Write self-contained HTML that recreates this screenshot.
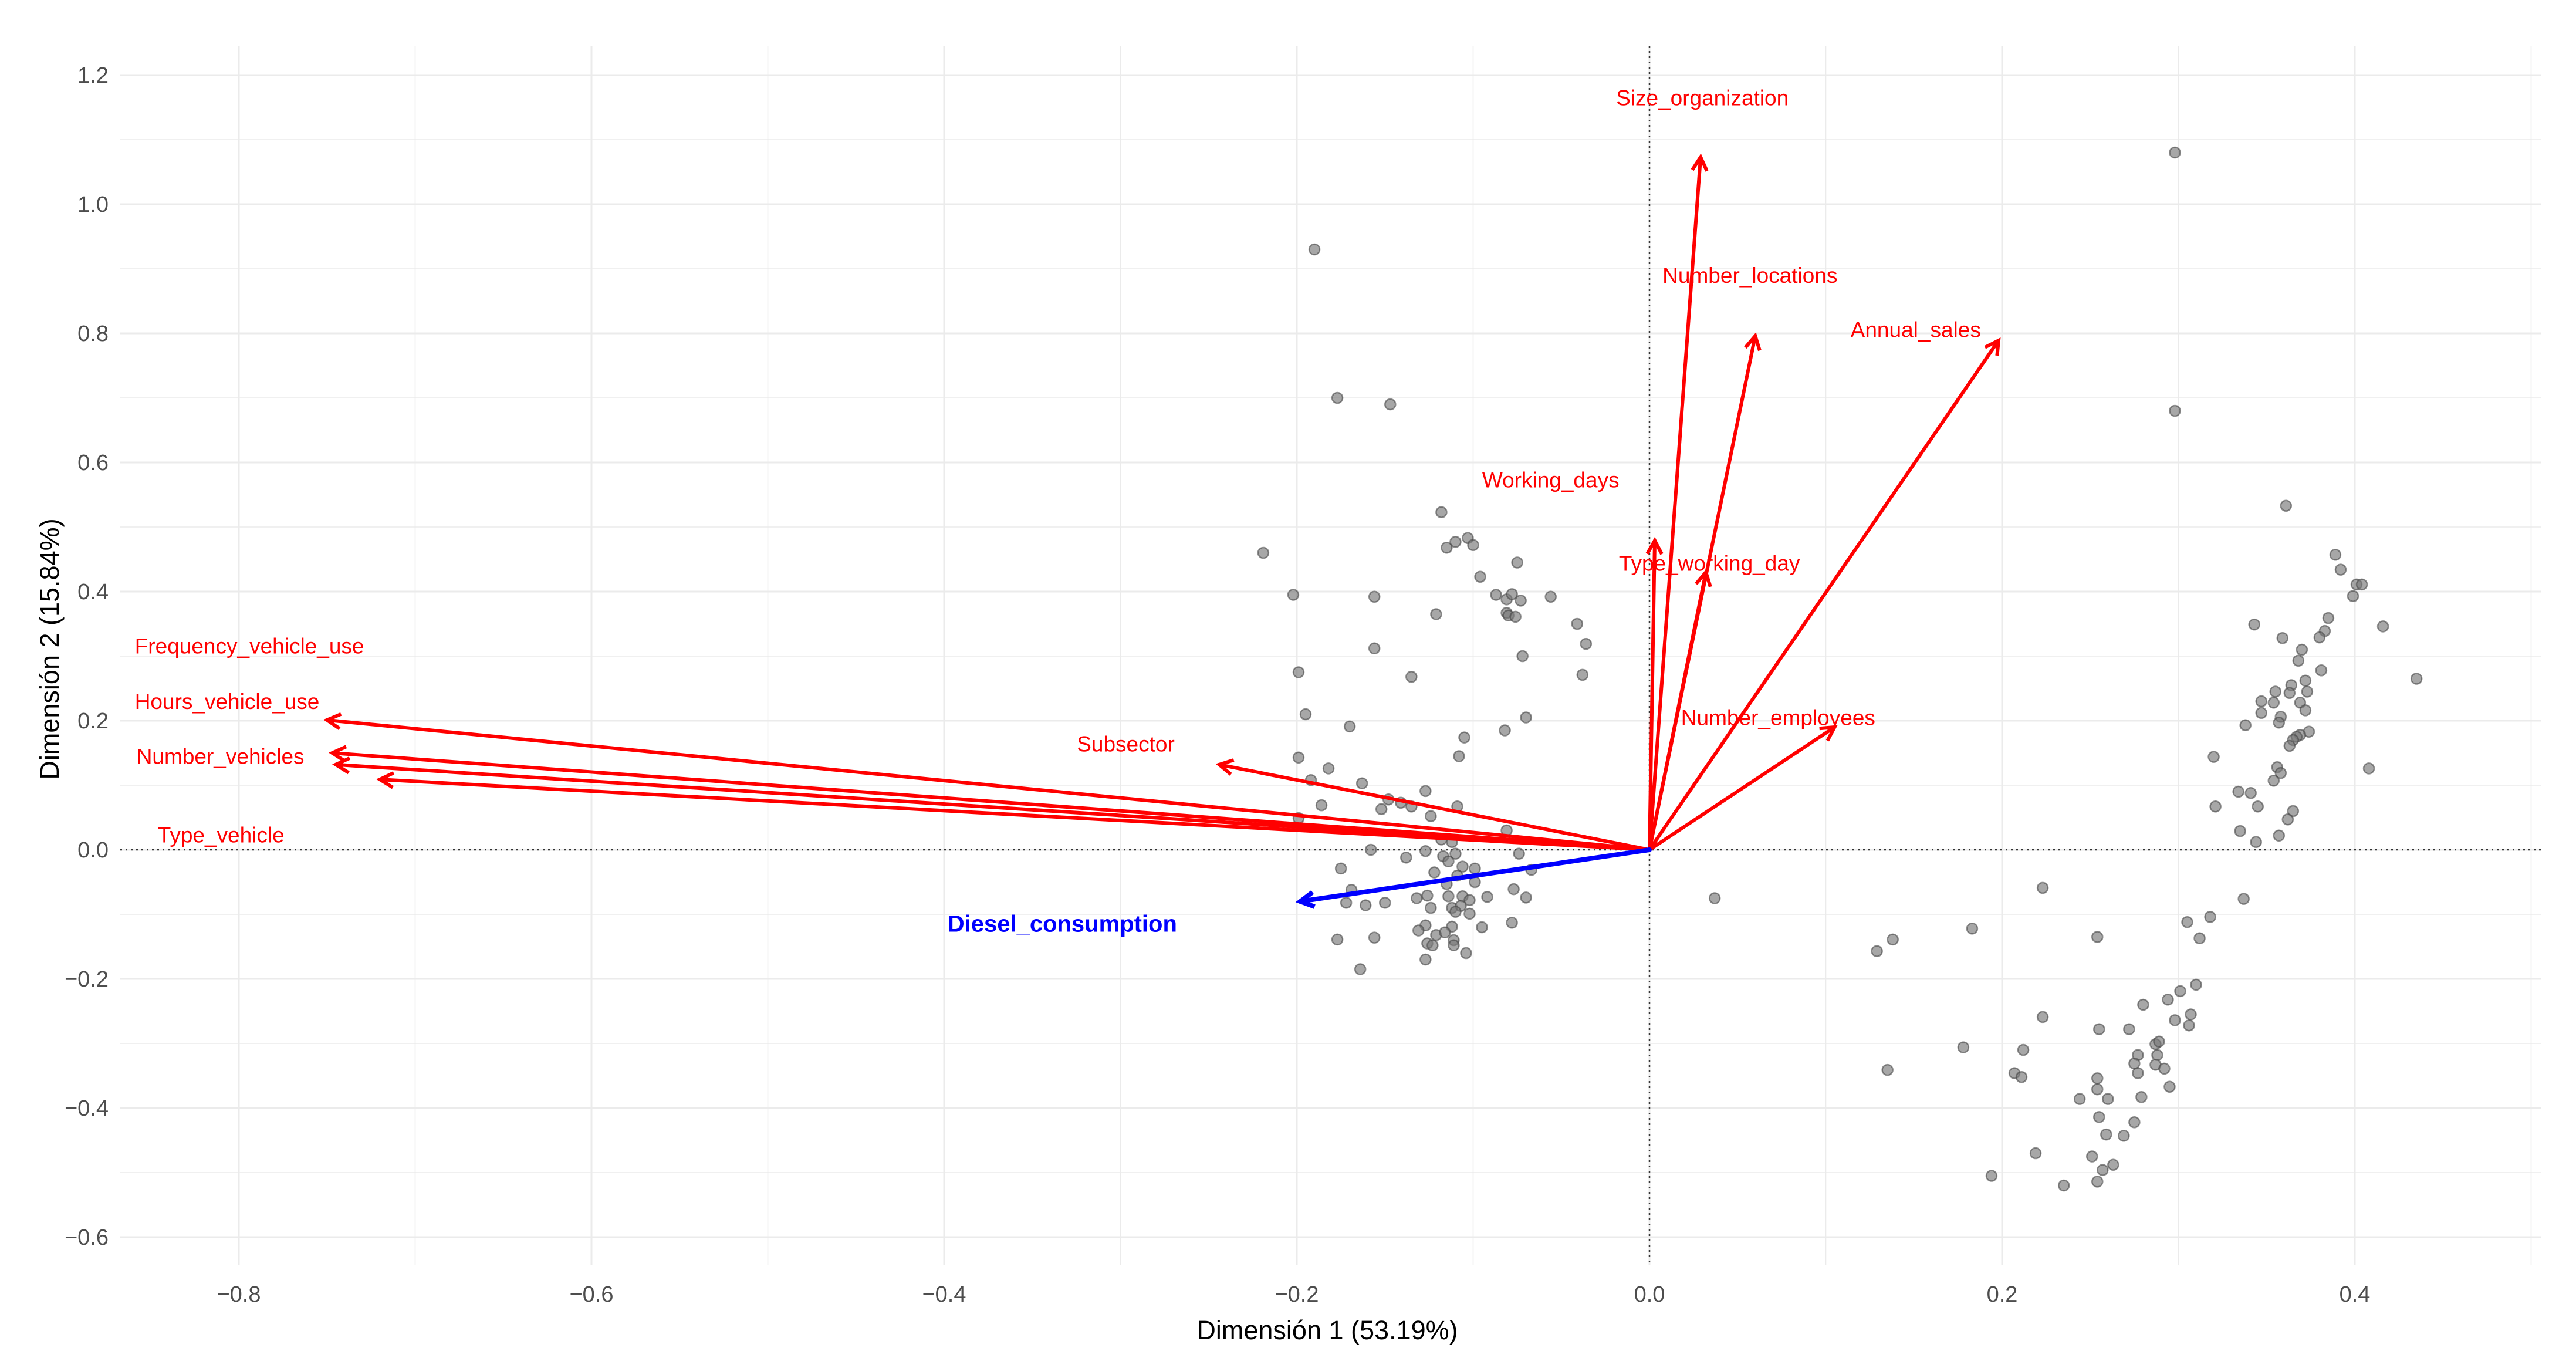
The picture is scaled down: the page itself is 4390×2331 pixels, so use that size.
<!DOCTYPE html>
<html><head><meta charset="utf-8"><style>
html,body{margin:0;padding:0;background:#fff;}
svg{display:block;font-family:"Liberation Sans",Arial,sans-serif;}
</style></head><body>
<svg id="chart" width="4390" height="2331" viewBox="0 0 4390 2331" xmlns="http://www.w3.org/2000/svg">
<g id="grid"></g>
<g id="zero"></g>
<g id="pts"></g>
<g id="arrows"></g>
<g id="labels"></g>
<g id="axes"></g>
</svg>
<script>
const xTicks=[-0.8,-0.6,-0.4,-0.2,0.0,0.2,0.4];
const yTicks=[-0.6,-0.4,-0.2,0.0,0.2,0.4,0.6,0.8,1.0,1.2];
const xTickLabels=["\u22120.8","\u22120.6","\u22120.4","\u22120.2","0.0","0.2","0.4"];
const yTickLabels=["\u22120.6","\u22120.4","\u22120.2","0.0","0.2","0.4","0.6","0.8","1.0","1.2"];
const varNames=["Size_organization","Number_locations","Annual_sales","Working_days","Type_working_day","Number_employees","Subsector","Frequency_vehicle_use","Hours_vehicle_use","Number_vehicles","Type_vehicle","Diesel_consumption"];
const varX=[0.029,0.060,0.198,0.003,0.032,0.105,-0.244,-0.750,-0.747,-0.745,-0.720,-0.198];
const varY=[1.073,0.796,0.789,0.479,0.430,0.190,0.132,0.201,0.150,0.132,0.109,-0.080];
const labX=[0.030,0.057,0.151,-0.056,0.034,0.073,-0.297,-0.859,-0.859,-0.858,-0.846,-0.333];
const labY=[1.165,0.890,0.806,0.573,0.444,0.205,0.164,0.316,0.230,0.145,0.023,-0.115];
const labAnchor=["middle","middle","middle","middle","middle","middle","middle","start","start","start","start","middle"];
const ptX=[-0.118,-0.219,-0.115,-0.110,-0.103,-0.100,-0.075,-0.096,-0.202,-0.156,-0.087,-0.081,-0.078,-0.073,-0.056,-0.121,-0.081,-0.080,-0.076,-0.041,-0.036,-0.156,-0.072,-0.199,-0.135,-0.038,-0.195,-0.070,-0.170,-0.082,-0.105,-0.199,-0.108,-0.182,-0.192,-0.163,-0.127,-0.186,-0.152,-0.148,-0.141,-0.135,-0.109,-0.124,-0.199,-0.081,-0.118,-0.112,-0.158,-0.127,-0.074,-0.110,-0.138,-0.117,-0.114,-0.106,-0.175,-0.099,-0.122,-0.067,-0.109,-0.115,-0.099,-0.169,-0.077,-0.126,-0.114,-0.106,-0.092,-0.070,-0.172,-0.161,-0.150,-0.132,-0.102,-0.124,-0.112,-0.107,-0.110,-0.102,-0.127,-0.112,-0.131,-0.095,-0.078,-0.121,-0.116,-0.177,-0.156,-0.126,-0.111,-0.123,-0.111,-0.104,-0.127,-0.164,
0.361,0.389,0.392,0.401,0.404,0.399,0.343,0.416,0.385,0.359,0.383,0.380,0.370,0.368,0.381,0.372,0.364,0.355,0.363,0.373,0.347,0.354,0.369,0.372,0.347,0.358,0.357,0.338,0.374,0.369,0.367,0.365,0.363,0.320,0.356,0.358,0.354,0.408,0.334,0.341,0.321,0.345,0.365,0.362,0.335,0.357,0.344,0.435,
0.223,0.337,0.318,0.305,0.183,0.138,0.129,0.254,0.312,0.310,0.301,0.294,0.280,0.223,0.307,0.298,0.306,0.255,0.272,0.178,0.212,0.287,0.289,0.277,0.288,0.275,0.287,0.292,0.135,0.207,0.211,0.277,0.254,0.295,0.254,0.244,0.260,0.279,0.255,0.275,0.259,0.269,0.219,0.251,0.263,0.257,0.194,0.235,0.254,
0.298,0.298,-0.190,-0.177,-0.147,0.037];
const ptY=[0.523,0.460,0.468,0.477,0.483,0.472,0.445,0.423,0.395,0.392,0.395,0.388,0.396,0.386,0.392,0.365,0.367,0.363,0.361,0.350,0.319,0.312,0.300,0.275,0.268,0.271,0.210,0.205,0.191,0.185,0.174,0.143,0.145,0.126,0.108,0.103,0.091,0.069,0.063,0.078,0.073,0.067,0.067,0.052,0.049,0.030,0.016,0.012,0.000,-0.002,-0.006,-0.006,-0.012,-0.010,-0.018,-0.026,-0.029,-0.029,-0.035,-0.031,-0.040,-0.053,-0.050,-0.062,-0.061,-0.071,-0.072,-0.072,-0.073,-0.074,-0.082,-0.086,-0.082,-0.075,-0.078,-0.090,-0.090,-0.087,-0.096,-0.099,-0.117,-0.119,-0.125,-0.120,-0.113,-0.132,-0.128,-0.139,-0.136,-0.145,-0.140,-0.148,-0.148,-0.160,-0.170,-0.185,
0.533,0.457,0.434,0.411,0.411,0.393,0.349,0.346,0.359,0.328,0.339,0.329,0.310,0.293,0.278,0.262,0.255,0.245,0.243,0.245,0.230,0.228,0.228,0.216,0.212,0.206,0.197,0.193,0.183,0.178,0.175,0.170,0.161,0.144,0.128,0.119,0.107,0.126,0.090,0.088,0.067,0.067,0.060,0.047,0.029,0.022,0.012,0.265,
-0.059,-0.076,-0.104,-0.112,-0.122,-0.139,-0.157,-0.135,-0.137,-0.209,-0.219,-0.232,-0.240,-0.259,-0.255,-0.264,-0.272,-0.278,-0.278,-0.306,-0.310,-0.301,-0.297,-0.318,-0.318,-0.331,-0.333,-0.339,-0.341,-0.346,-0.352,-0.346,-0.354,-0.367,-0.371,-0.386,-0.386,-0.383,-0.414,-0.422,-0.441,-0.443,-0.470,-0.475,-0.488,-0.496,-0.505,-0.520,-0.514,
1.080,0.680,0.930,0.700,0.690,-0.075];

const NS="http://www.w3.org/2000/svg";
const X0=2811, XU=3005, Y0=1448, YU=1100;
const PL=205, PR=4330, PT=78, PB=2156;
function sx(v){return X0+v*XU;}
function sy(v){return Y0-v*YU;}
function mk(tag,attrs,parent){const e=document.createElementNS(NS,tag);for(const k in attrs)e.setAttribute(k,attrs[k]);parent.appendChild(e);return e;}
const grid=document.getElementById('grid');
for(let i=-9;i<=5;i++){const v=i/10;const x=sx(v);if(x<PL||x>PR)continue;
 const l=mk('line',{x1:x,x2:x,y1:PT,y2:PB,stroke:'#ebebeb','stroke-width':(i%2===0)?3:1.6},grid);
 
 }
for(let i=-6;i<=12;i++){const v=i/10;const y=sy(v);if(y<PT||y>PB)continue;
 const l=mk('line',{x1:PL,x2:PR,y1:y,y2:y,stroke:'#ebebeb','stroke-width':(i%2===0)?3:1.6},grid);
 
 }
const zero=document.getElementById('zero');
const zh=mk('line',{x1:PL,x2:PR,y1:sy(0),y2:sy(0),stroke:'#333','stroke-width':2.5,'stroke-dasharray':'3,6'},zero);


const zv=mk('line',{x1:sx(0),x2:sx(0),y1:PT,y2:PB,stroke:'#333','stroke-width':2.5,'stroke-dasharray':'3,6'},zero);


const pts=document.getElementById('pts');
for(let i=0;i<ptX.length;i++){
 const c=mk('circle',{cx:sx(ptX[i]),cy:sy(ptY[i]),r:9,fill:'rgba(120,120,120,0.65)',stroke:'rgba(70,70,70,0.6)','stroke-width':2.5},pts);
 
 }
const arrows=document.getElementById('arrows');
const labels=document.getElementById('labels');
for(let i=0;i<varNames.length;i++){
 const blue=varNames[i]==='Diesel_consumption';const col=blue?'#0000ff':'#ff0000';
 const x1=sx(0),y1=sy(0),x2=sx(varX[i]),y2=sy(varY[i]);
 const g=mk('g',{},arrows);
 
 
 mk('line',{x1:x1,y1:y1,x2:x2,y2:y2,stroke:col,'stroke-width':blue?8:6,'stroke-linecap':'round'},g);
 const a=Math.atan2(y2-y1,x2-x1),L=26,s=0.5;
 const p=[x2-L*Math.cos(a-s),y2-L*Math.sin(a-s),x2,y2,x2-L*Math.cos(a+s),y2-L*Math.sin(a+s)];
 mk('polyline',{points:p.join(','),fill:'none',stroke:col,'stroke-width':blue?8:6,'stroke-linejoin':'miter'},g);
 const t=mk('text',{x:sx(labX[i]),y:sy(labY[i])+13,'text-anchor':labAnchor[i],fill:col,'font-size':blue?40:37,'font-weight':blue?'bold':'normal'},labels);
 t.textContent=varNames[i];
 
 }
const axes=document.getElementById('axes');
for(let i=0;i<xTicks.length;i++){
 const t=mk('text',{x:sx(xTicks[i]),y:2218,'text-anchor':'middle',fill:'#4d4d4d','font-size':38},axes);
 t.textContent=xTickLabels[i];
 
 }
for(let i=0;i<yTicks.length;i++){
 const t=mk('text',{x:185,y:sy(yTicks[i])+13,'text-anchor':'end',fill:'#4d4d4d','font-size':38},axes);
 t.textContent=yTickLabels[i];
 
 }
const xt=mk('text',{x:2262,y:2282,'text-anchor':'middle',fill:'#000','font-size':45},axes);
xt.textContent='Dimensión 1 (53.19%)';


const yt=mk('text',{x:0,y:0,'text-anchor':'middle',fill:'#000','font-size':45,transform:'translate(100,1106) rotate(-90)'},axes);
yt.textContent='Dimensión 2 (15.84%)';


</script>
</body></html>
